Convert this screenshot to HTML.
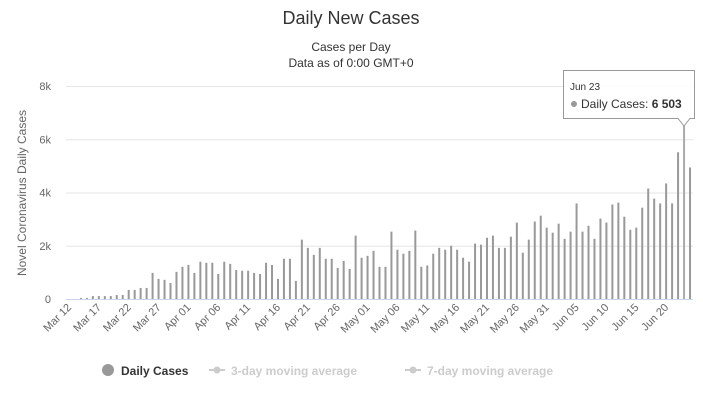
<!DOCTYPE html>
<html><head><meta charset="utf-8"><style>
body{margin:0;background:#fff;font-family:"Liberation Sans",sans-serif;}
svg text{font-family:"Liberation Sans",sans-serif;}
</style></head><body>
<svg id="chart" width="703" height="400" xmlns="http://www.w3.org/2000/svg">
<text x="351" y="24" text-anchor="middle" font-size="18" fill="#333">Daily New Cases</text>
<text x="351" y="51" text-anchor="middle" font-size="12" fill="#333">Cases per Day</text>
<text x="351" y="67" text-anchor="middle" font-size="12" fill="#333">Data as of 0:00 GMT+0</text>
<text transform="translate(26,193) rotate(-90)" text-anchor="middle" font-size="12" fill="#666">Novel Coronavirus Daily Cases</text>
<g id="grid"></g><g id="bars"></g><g id="xlabels"></g>
<g id="legend">
<g><circle cx="108" cy="370" r="6" fill="#999"/><text x="121" y="375" font-size="12" font-weight="bold" fill="#333">Daily Cases</text></g>
<g><line x1="209" y1="370" x2="225" y2="370" stroke="#ccc" stroke-width="2"/><circle cx="217" cy="370" r="3.5" fill="#ccc"/><text x="231" y="375" font-size="12" font-weight="bold" fill="#ccc">3-day moving average</text></g>
<g><line x1="405" y1="370" x2="421" y2="370" stroke="#ccc" stroke-width="2"/><circle cx="413" cy="370" r="3.5" fill="#ccc"/><text x="427" y="375" font-size="12" font-weight="bold" fill="#ccc">7-day moving average</text></g>
</g>
<g id="tooltip">
<path d="M563.5 70.5 H694.5 V118.5 H690 L684 126 L678 118.5 H563.5 Z" fill="#fff" fill-opacity="0.9" stroke="#999" stroke-width="1"/>
<text x="570" y="90" font-size="10" fill="#333">Jun 23</text>
<circle cx="574" cy="104" r="3" fill="#999"/>
<text x="581" y="108" font-size="12" fill="#333">Daily Cases: <tspan font-weight="bold">6 503</tspan></text>
</g>
</svg>
<script>
const startDate = [2020, 2, 12];
const cases = [0,0,40,40,110,110,110,110,150,150,340,340,415,415,980,755,720,600,1020,1210,1280,980,1400,1360,1360,940,1400,1320,1090,1060,1060,980,940,1360,1280,755,1510,1510,680,2230,1920,1660,1920,1510,1510,1170,1430,1130,2380,1550,1620,1810,1210,
1210,2530,1850,1700,1810,2570,1210,1260,1700,1920,1850,2000,1850,1550,1400,2080,2040,2300,2380,1920,1920,2340,2870,1740,2230,2910,3130,2680,2490,2830,2260,2530,3590,2530,2750,2260,3020,2870,3550,3620,3090,2600,2680,3430,4150,3770,3590,4340,3590,5510,6503,4940];
const yTicks = [0,2000,4000,6000,8000];
const yTickLabels = ['0','2k','4k','6k','8k'];
const NS='http://www.w3.org/2000/svg';
const L=66, R=693, T=86, B=299, YMAX=8000;
const n=cases.length, bw=(R-L)/n;
const xPos=i=>L+bw*(i+0.5);
const yPos=v=>B-(v/YMAX)*(B-T);
const months=['Jan','Feb','Mar','Apr','May','Jun','Jul'];
function label(i){const d=new Date(startDate[0],startDate[1],startDate[2]+i);return months[d.getMonth()]+' '+String(d.getDate()).padStart(2,'0');}
const grid=document.getElementById('grid');
yTicks.forEach((t,k)=>{
 const ln=document.createElementNS(NS,'line');
 ln.setAttribute('x1',L);ln.setAttribute('x2',R);ln.setAttribute('y1',yPos(t)+0.5);ln.setAttribute('y2',yPos(t)+0.5);
 ln.setAttribute('stroke',t===0?'#ccd6eb':'#e6e6e6');
 
 
 grid.appendChild(ln);
 const tx=document.createElementNS(NS,'text');
 tx.setAttribute('x',51);tx.setAttribute('y',yPos(t)+4);tx.setAttribute('text-anchor','end');tx.setAttribute('font-size','11');tx.setAttribute('fill','#666');
 tx.textContent=yTickLabels[k];
 
 
 grid.appendChild(tx);
});
const bars=document.getElementById('bars');
cases.forEach((v,i)=>{
 const r=document.createElementNS(NS,'rect');
 r.setAttribute('x',xPos(i)-1);r.setAttribute('width',2);r.setAttribute('y',yPos(v));r.setAttribute('height',B-yPos(v));
 r.setAttribute('fill',i===n-2?'#aaa':'#999');
 
 
 bars.appendChild(r);
});
const xl=document.getElementById('xlabels');
for(let i=0;i<n;i+=5){
 const tx=document.createElementNS(NS,'text');
 const x=xPos(i)+3,y=308;
 tx.setAttribute('x',x);tx.setAttribute('y',y);tx.setAttribute('text-anchor','end');tx.setAttribute('font-size','11');tx.setAttribute('fill','#666');
 tx.setAttribute('transform','rotate(-45 '+x+' '+y+')');
 tx.textContent=label(i);
 
 
 xl.appendChild(tx);
}
</script>
</body></html>
